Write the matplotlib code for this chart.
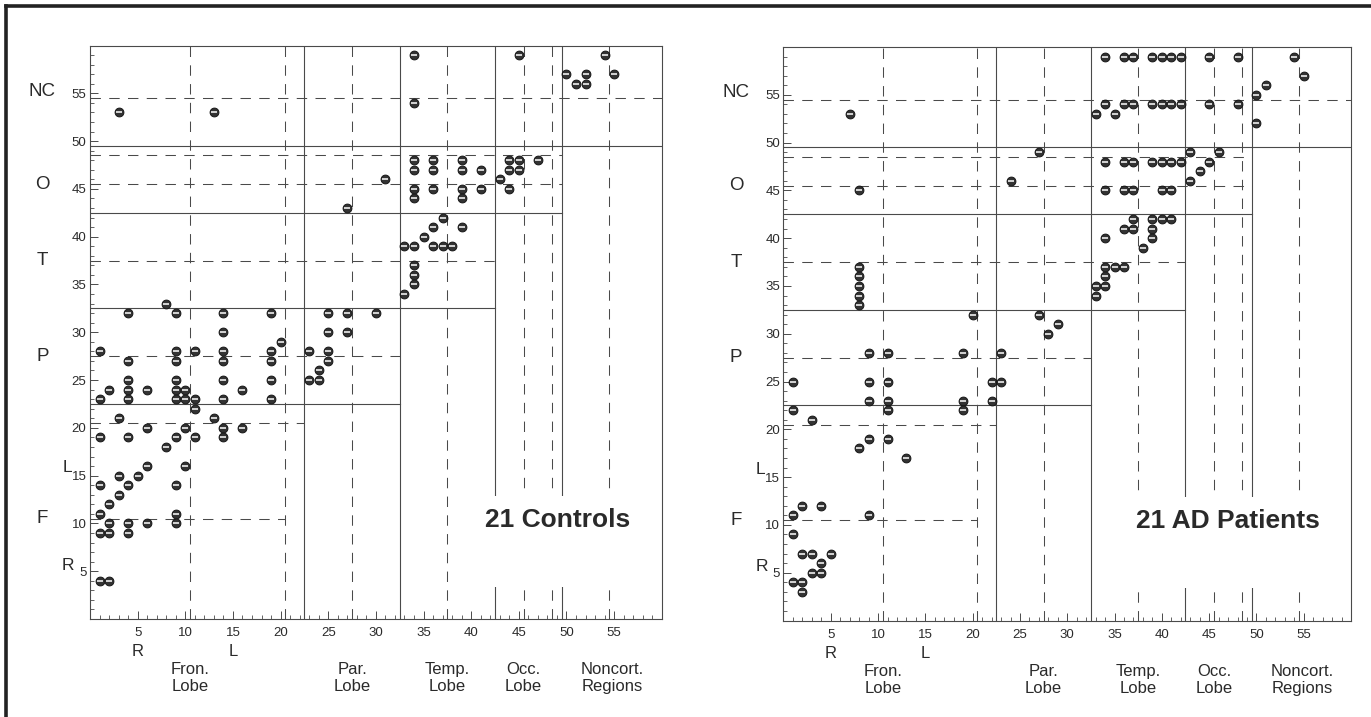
import matplotlib
matplotlib.use('Agg')
import matplotlib.pyplot as plt
from matplotlib.patches import Rectangle

plt.rcParams['font.family'] = ['Liberation Sans', 'DejaVu Sans']

# ---------------- data ----------------
ctrl_x = [1, 1, 2, 4, 4, 4, 4, 6, 9, 9, 9, 9, 9, 10, 10, 11, 11, 11, 14, 14, 14, 14, 14, 16, 19, 19, 19, 19, 20,
          3, 1, 4, 6, 8, 9, 10, 11, 13, 14, 14, 16,
          1, 2, 3, 3, 4, 5, 6, 9, 10,
          1, 2, 4, 6, 9, 9, 1, 2, 4, 1, 2,
          4, 8, 9, 14, 19, 3, 13,
          34, 45, 54, 50, 52, 55, 51, 52, 34,
          34, 36, 39, 44, 45, 47, 34, 36, 39, 41, 44, 45, 31, 43, 34, 36, 39, 41, 44, 34, 39, 27,
          37, 36, 39, 35, 33, 34, 36, 37, 38, 34, 34, 34, 33, 25, 27, 30,
          25, 27, 23, 25, 25, 24, 23, 24]
ctrl_y = [28, 23, 24, 27, 25, 24, 23, 24, 28, 27, 25, 24, 23, 24, 23, 28, 23, 22, 30, 28, 27, 25, 23, 24, 28, 27, 25, 23, 29,
          21, 19, 19, 20, 18, 19, 20, 19, 21, 20, 19, 20,
          14, 12, 15, 13, 14, 15, 16, 14, 16,
          11, 10, 10, 10, 11, 10, 9, 9, 9, 4, 4,
          32, 33, 32, 32, 32, 53, 53,
          59, 59, 59, 57, 57, 57, 56, 56, 54,
          48, 48, 48, 48, 48, 48, 47, 47, 47, 47, 47, 47, 46, 46, 45, 45, 45, 45, 45, 44, 44, 43,
          42, 41, 41, 40, 39, 39, 39, 39, 39, 37, 36, 35, 34, 32, 32, 32,
          30, 30, 28, 28, 27, 26, 25, 25]

ad_x = [1, 1, 3, 9, 9, 9, 11, 11, 11, 11, 8, 9, 11, 13, 19, 19, 19, 22, 22, 23, 23,
        1, 2, 4, 9, 1, 2, 3, 5, 4, 3, 4, 1, 2, 2,
        7, 8, 8, 8, 8, 8, 8, 20, 24,
        34, 36, 37, 39, 40, 41, 42, 45, 48, 54,
        55, 51, 50,
        34, 36, 37, 39, 40, 41, 42, 45, 48,
        33, 35, 50,
        27, 43, 46,
        34, 36, 37, 39, 40, 41, 42, 45,
        44, 43,
        34, 36, 37, 40, 41,
        37, 39, 40, 41, 36, 37, 39, 34, 39, 38,
        34, 35, 36, 34, 33, 34, 33, 27, 29, 28]
ad_y = [25, 22, 21, 28, 25, 23, 28, 25, 23, 22, 18, 19, 19, 17, 28, 23, 22, 25, 23, 28, 25,
        11, 12, 12, 11, 9, 7, 7, 7, 6, 5, 5, 4, 4, 3,
        53, 45, 37, 36, 35, 34, 33, 32, 46,
        59, 59, 59, 59, 59, 59, 59, 59, 59, 59,
        57, 56, 55,
        54, 54, 54, 54, 54, 54, 54, 54, 54,
        53, 53, 52,
        49, 49, 49,
        48, 48, 48, 48, 48, 48, 48, 48,
        47, 46,
        45, 45, 45, 45, 45,
        42, 42, 42, 42, 41, 41, 41, 40, 40, 39,
        37, 37, 37, 36, 35, 35, 34, 32, 31, 30]

x_tick_values = [5, 10, 15, 20, 25, 30, 35, 40, 45, 50, 55]
y_tick_values = [5, 10, 15, 20, 25, 30, 35, 40, 45, 50, 55]

lobe_labels = ['Fron.\nLobe', 'Par.\nLobe', 'Temp.\nLobe', 'Occ.\nLobe', 'Noncort.\nRegions']
lobe_centers = [10.5, 27.5, 37.5, 45.5, 54.8]
region_letters = ['NC', 'O', 'T', 'P', 'F']
region_centers = [55.2, 45.5, 37.5, 27.5, 10.5]

# region boundaries (solid) and how far each horizontal boundary runs
solid_bounds = [22.5, 32.5, 42.5, 49.5]
solid_h_ends = [32.5, 42.5, 49.5, 60]
# sub-boundaries (dashed)
dashed_bounds = [10.5, 20.5, 27.5, 37.5, 45.5, 48.5, 54.5]
dashed_h_ends = [20.5, 22.5, 32.5, 42.5, 49.5, 49.5, 60]

panel_titles = ['21 Controls', '21 AD Patients']

# ---------------- figure ----------------
W, H = 1371, 717
fig = plt.figure(figsize=(W / 100, H / 100), dpi=100)
fig.patch.set_facecolor('white')

ax_L = fig.add_axes([90 / W, (H - 619) / H, 571.8 / W, 573.5 / H])
ax_R = fig.add_axes([783.5 / W, (H - 620.5) / H, 567.5 / W, 573.5 / H])

LINE = '#4a4a4a'
TXT = '#2a2a2a'
DASH = (0, (10, 8))


def draw_panel(ax, xs, ys, title, box_left):
    ax.set_xlim(0, 60)
    ax.set_ylim(0, 60)
    for s in ax.spines.values():
        s.set_color(LINE)
        s.set_linewidth(0.8)

    for b, e in zip(solid_bounds, solid_h_ends):
        ax.plot([b, b], [0, 60], color=LINE, lw=0.8, zorder=1)
        ax.plot([0, e], [b, b], color=LINE, lw=0.8, zorder=1)
    for b, e in zip(dashed_bounds, dashed_h_ends):
        ax.plot([b, b], [0, 60], color=LINE, lw=0.75, ls=DASH, zorder=1)
        ax.plot([0, e], [b, b], color=LINE, lw=0.75, ls=DASH, zorder=1)

    ax.add_patch(Rectangle((box_left, 3.4), 58.3 - box_left, 9.5,
                           facecolor='white', edgecolor='none', zorder=2))
    ax.text(56.7, 10.4, title, ha='right', va='center', fontsize=19,
            fontweight='bold', color=TXT, zorder=3)

    ax.scatter(xs, ys, s=40, c='#333333', edgecolors='#151515',
               linewidths=0.7, zorder=4)
    ax.scatter(xs, ys, marker='_', s=13, c='white', linewidths=1.1, zorder=5)

    ax.set_xticks(x_tick_values)
    ax.set_yticks(y_tick_values)
    ax.set_xticks(range(1, 60), minor=True)
    ax.set_yticks(range(1, 60), minor=True)
    ax.tick_params(which='both', direction='in', top=False, right=False,
                   color=LINE, labelcolor=TXT)
    ax.tick_params(which='major', length=6, width=0.7, labelsize=9.5)
    ax.tick_params(which='minor', length=3, width=0.6)
    ax.tick_params(axis='x', which='major', pad=6)
    ax.tick_params(axis='y', which='major', pad=2.5)

    for lab, yc in zip(region_letters, region_centers):
        ax.text(-5.0, yc, lab, ha='center', va='center', fontsize=13.5,
                color=TXT, clip_on=False)
    ax.text(-2.4, 15.8, 'L', ha='center', va='center', fontsize=12.5,
            color=TXT, clip_on=False)
    ax.text(-2.3, 5.6, 'R', ha='center', va='center', fontsize=12.5,
            color=TXT, clip_on=False)

    ax.text(5, -3.45, 'R', ha='center', va='center', fontsize=12,
            color=TXT, clip_on=False)
    ax.text(15, -3.45, 'L', ha='center', va='center', fontsize=12,
            color=TXT, clip_on=False)
    for lab, xc in zip(lobe_labels, lobe_centers):
        ax.text(xc, -6.2, lab, ha='center', va='center', fontsize=12,
                color=TXT, linespacing=1.15, multialignment='center',
                clip_on=False)


draw_panel(ax_L, ctrl_x, ctrl_y, panel_titles[0], 40.8)
draw_panel(ax_R, ad_x, ad_y, panel_titles[1], 35.4)

fig.add_artist(plt.Line2D([6 / W, 1], [1 - 6 / H, 1 - 6 / H], color='#222222',
                          lw=2.6, transform=fig.transFigure))
fig.add_artist(plt.Line2D([6 / W, 6 / W], [0, 1 - 6 / H], color='#222222',
                          lw=2.6, transform=fig.transFigure))

fig.savefig('out.png', dpi=100)
